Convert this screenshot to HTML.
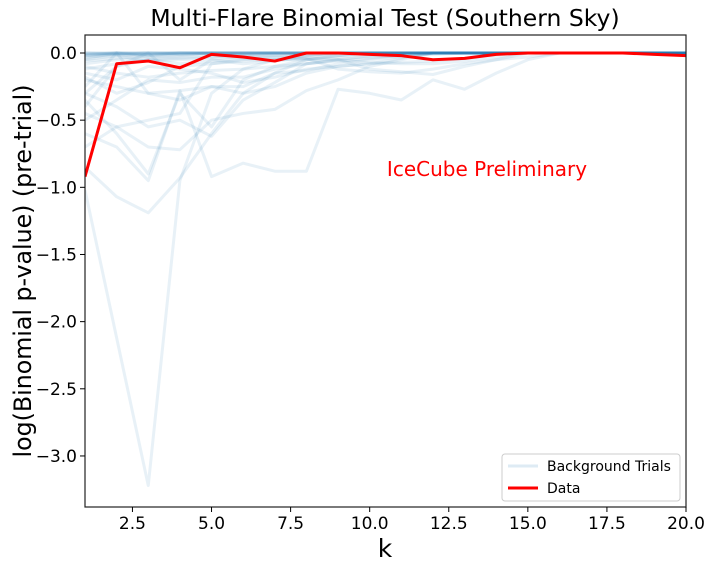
<!DOCTYPE html>
<html><head><meta charset="utf-8"><style>
body{margin:0;background:#fff;}
svg{display:block;font-family:"DejaVu Sans","Liberation Sans",sans-serif;}
</style></head><body>
<svg id="chart" width="712" height="568">
<text x="385" y="26" font-size="23.5" text-anchor="middle">Multi-Flare Binomial Test (Southern Sky)</text>
<g id="plot"></g>
<text x="385" y="557" font-size="25" text-anchor="middle">k</text>
<text transform="translate(31,271) rotate(-90)" font-size="23.7" text-anchor="middle">log(Binomial p-value) (pre-trial)</text>
<text x="487" y="176" font-size="20" fill="#ff0000" text-anchor="middle">IceCube Preliminary</text>
</svg>
<script>
const ks=[1,2,3,4,5,6,7,8,9,10,11,12,13,14,15,16,17,18,19,20];
const dataVals=[-0.92,-0.08,-0.06,-0.11,-0.01,-0.03,-0.06,0,0,-0.01,-0.02,-0.05,-0.04,-0.01,0,0,0,0,-0.01,-0.02];
const trials=[
[-1.02,-2.12,-3.22,-0.95,-0.3,-0.12,-0.05,-0.02,0,0,0,0,0,0,0,0,0,0,0,0],
[-0.85,-1.07,-1.19,-0.93,-0.6,-0.3,-0.15,-0.05,-0.02,0,0,0,0,0,0,0,0,0,0,0],
[-0.6,-0.7,-0.95,-0.28,-0.92,-0.82,-0.88,-0.88,-0.27,-0.3,-0.35,-0.2,-0.27,-0.15,-0.05,0,0,0,0,0],
[-0.45,-0.55,-0.7,-0.72,-0.5,-0.45,-0.42,-0.28,-0.2,-0.1,-0.05,0,0,0,0,0,0,0,0,0],
[-0.35,-0.6,-0.9,-0.3,-0.55,-0.2,-0.1,-0.05,-0.02,0,0,0,0,0,0,0,0,0,0,0],
[-0.3,-0.4,-0.55,-0.5,-0.62,-0.35,-0.22,-0.08,-0.05,-0.02,0,0,0,0,0,0,0,0,0,0],
[-0.25,0,-0.3,-0.35,-0.25,-0.3,-0.25,-0.15,-0.1,-0.08,-0.04,0,0,0,0,0,0,0,0,0],
[-0.5,-0.35,-0.2,-0.22,-0.18,-0.18,-0.12,-0.08,-0.05,-0.12,-0.14,-0.16,-0.1,-0.05,0,0,0,0,0,0],
[-0.2,-0.25,-0.3,-0.28,-0.25,-0.25,-0.15,-0.13,-0.08,-0.05,-0.03,0,0,0,0,0,0,0,0,0],
[-0.15,-0.2,-0.1,-0.12,-0.15,-0.22,-0.18,-0.12,-0.1,-0.08,-0.07,-0.06,-0.04,0,0,0,0,0,0,0],
[-0.1,-0.15,-0.18,-0.15,-0.13,-0.12,-0.1,-0.08,-0.06,-0.04,-0.02,0,0,0,0,0,0,0,0,0],
[-0.3,-0.1,0,-0.2,-0.05,-0.08,-0.06,-0.03,-0.02,0,0,0,0,0,0,0,0,0,0,0],
[-0.05,-0.02,-0.06,-0.05,-0.04,-0.03,-0.02,-0.01,0,0,0,0,0,0,0,0,0,0,0,0],
[-0.02,0,-0.03,-0.02,0,-0.01,0,0,0,0,0,0,0,0,0,0,0,0,0,0],
[-0.4,-0.1,-0.05,-0.04,-0.03,-0.02,-0.01,0,0,0,0,0,0,0,0,0,0,0,0,0],
[-0.08,-0.05,-0.04,-0.03,-0.02,-0.02,-0.03,-0.04,-0.05,-0.07,-0.08,-0.08,-0.06,-0.03,0,0,0,0,0,0],
[-0.03,-0.02,-0.01,0,0,0,0,0,0,0,0,0,0,0,0,0,0,0,0,0],
[-0.12,-0.08,-0.05,-0.08,-0.06,-0.04,-0.05,-0.05,-0.04,-0.03,-0.02,-0.01,0,0,0,0,0,0,0,0],
[-0.18,-0.3,-0.22,-0.1,-0.08,-0.06,-0.05,-0.04,-0.12,-0.14,-0.15,-0.12,-0.08,-0.05,-0.03,0,0,0,0,0],
[-0.01,0,0,0,0,0,0,0,0,0,0,0,0,0,0,0,0,0,0,0],
[-0.06,-0.04,-0.02,-0.01,0,0,0,0,0,0,0,0,0,0,0,0,0,0,0,0],
[-0.7,-0.55,-0.5,-0.45,-0.08,-0.05,-0.03,-0.02,0,0,0,0,0,0,0,0,0,0,0,0],
[0,0,0,0,0,0,0,0,0,0,0,0,0,0,0,0,0,0,0,0],
[-0.01,0,-0.01,0,0,0,0,0,0,0,0,0,0,0,0,0,0,0,0,0],
[0,-0.01,0,0,0,0,0,0,0,0,0,0,0,0,0,0,0,0,0,0],
[-0.04,0,0,-0.01,0,0,0,0,0,0,0,0,0,0,0,0,0,0,0,0],
[0,0,-0.02,0,0,0,0,0,0,0,0,0,0,0,0,0,0,0,0,0],
[-0.02,-0.01,0,0,0,0,0,0,0,0,0,0,0,0,0,0,0,0,0,0]
];
const xTicks=[2.5,5.0,7.5,10.0,12.5,15.0,17.5,20.0];
const yTicks=[0.0,-0.5,-1.0,-1.5,-2.0,-2.5,-3.0];
const L=85,R=686,T=35,B=507,xmin=1,xmax=20,ymax=0.134,ymin=-3.38;
const xs=v=>L+(v-xmin)/(xmax-xmin)*(R-L);
const ys=v=>T+(ymax-v)/(ymax-ymin)*(B-T);
const NS='http://www.w3.org/2000/svg';
const g=document.getElementById('plot');
function mk(t,a){const e=document.createElementNS(NS,t);for(const k in a)e.setAttribute(k,a[k]);return e;}
const clip=mk('clipPath',{id:'cp'});clip.appendChild(mk('rect',{x:L,y:T,width:R-L,height:B-T}));g.appendChild(clip);
const lines=mk('g',{'clip-path':'url(#cp)'});g.appendChild(lines);
trials.forEach((s,i)=>{
 const p=mk('polyline',{points:s.map((v,j)=>xs(ks[j])+','+ys(v)).join(' '),fill:'none',stroke:'#1f77b4','stroke-opacity':'0.1','stroke-width':'3','stroke-linejoin':'round'});
 
 
 lines.appendChild(p);
});
const d=mk('polyline',{points:dataVals.map((v,j)=>xs(ks[j])+','+ys(v)).join(' '),fill:'none',stroke:'#ff0000','stroke-width':'3','stroke-linejoin':'round'});


lines.appendChild(d);
const frame=mk('rect',{x:L,y:T,width:R-L,height:B-T,fill:'none',stroke:'#222','stroke-width':'1.2'});


g.appendChild(frame);
xTicks.forEach(v=>{
 g.appendChild(mk('line',{x1:xs(v),x2:xs(v),y1:B,y2:B+5,stroke:'#000'}));
 const t=mk('text',{x:xs(v),y:B+22,'font-size':'17','text-anchor':'middle'});t.textContent=v.toFixed(1);
 
 
 g.appendChild(t);
});
yTicks.forEach(v=>{
 g.appendChild(mk('line',{x1:L-5,x2:L,y1:ys(v),y2:ys(v),stroke:'#000'}));
 const t=mk('text',{x:L-8,y:ys(v)+6,'font-size':'17','text-anchor':'end'});t.textContent=(v===0?'0.0':'\u2212'+Math.abs(v).toFixed(1));
 
 
 g.appendChild(t);
});
const lg=mk('g',{});


lg.appendChild(mk('rect',{x:502,y:454,width:178,height:47,rx:3,fill:'#fff','fill-opacity':'0.8',stroke:'#ccc'}));
lg.appendChild(mk('line',{x1:508,x2:538,y1:466,y2:466,stroke:'#1f77b4','stroke-opacity':'0.15','stroke-width':'3'}));
lg.appendChild(mk('line',{x1:508,x2:538,y1:488,y2:488,stroke:'#ff0000','stroke-width':'3'}));
const t1=mk('text',{x:547,y:471,'font-size':'14'});t1.textContent='Background Trials';


const t2=mk('text',{x:547,y:493,'font-size':'14'});t2.textContent='Data';


lg.appendChild(t1);lg.appendChild(t2);g.appendChild(lg);
</script>
</body></html>
